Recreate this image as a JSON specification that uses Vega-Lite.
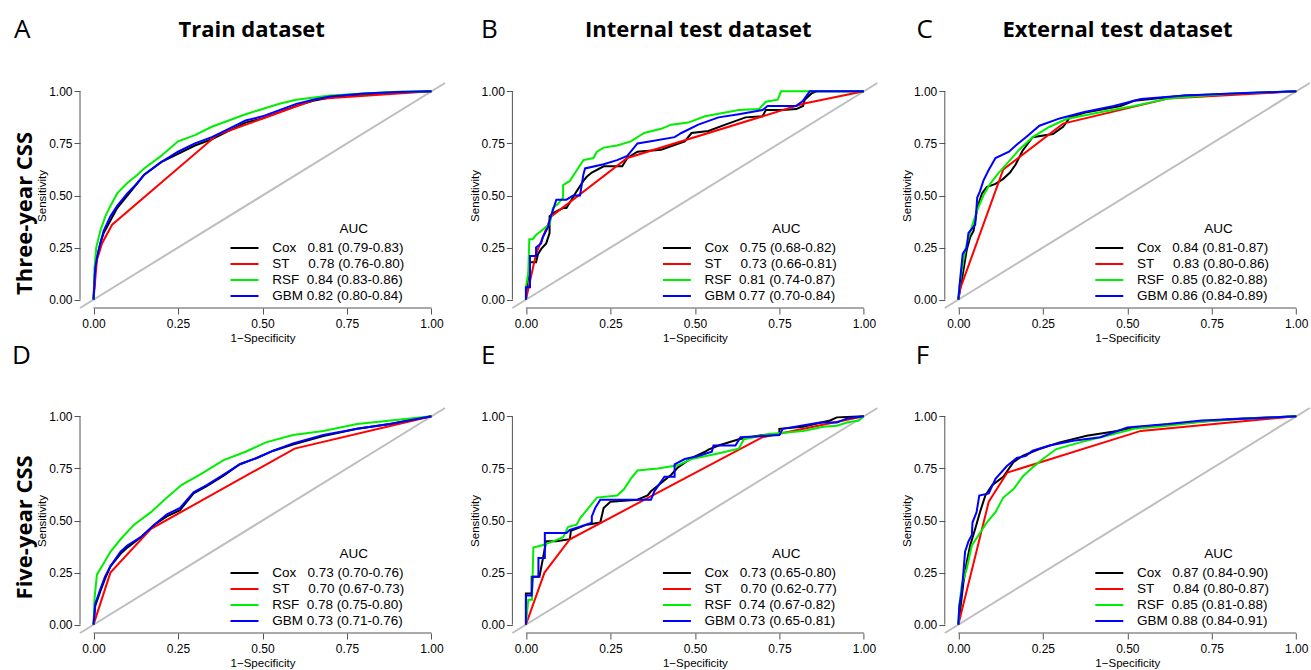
{
"$schema":"https://vega.github.io/schema/vega-lite/v6.json",
"padding":{"left":12,"top":16,"right":0,"bottom":0},
"datasets":{"roc":[
{"p":"A","m":"Cox","x":0,"y":0},{"p":"A","m":"Cox","x":0.005,"y":0.15},{"p":"A","m":"Cox","x":0.01,"y":0.2},{"p":"A","m":"Cox","x":0.02,"y":0.27},{"p":"A","m":"Cox","x":0.03,"y":0.32},{"p":"A","m":"Cox","x":0.05,"y":0.38},{"p":"A","m":"Cox","x":0.07,"y":0.44},{"p":"A","m":"Cox","x":0.1,"y":0.5},{"p":"A","m":"Cox","x":0.13,"y":0.56},{"p":"A","m":"Cox","x":0.15,"y":0.6},{"p":"A","m":"Cox","x":0.2,"y":0.66},{"p":"A","m":"Cox","x":0.25,"y":0.7},{"p":"A","m":"Cox","x":0.3,"y":0.74},{"p":"A","m":"Cox","x":0.35,"y":0.77},{"p":"A","m":"Cox","x":0.4,"y":0.81},{"p":"A","m":"Cox","x":0.45,"y":0.85},{"p":"A","m":"Cox","x":0.5,"y":0.87},{"p":"A","m":"Cox","x":0.55,"y":0.9},{"p":"A","m":"Cox","x":0.6,"y":0.93},{"p":"A","m":"Cox","x":0.65,"y":0.955},{"p":"A","m":"Cox","x":0.7,"y":0.97},{"p":"A","m":"Cox","x":0.8,"y":0.985},{"p":"A","m":"Cox","x":0.9,"y":0.995},{"p":"A","m":"Cox","x":1,"y":1},
{"p":"A","m":"ST","x":0,"y":0},{"p":"A","m":"ST","x":0.01,"y":0.19},{"p":"A","m":"ST","x":0.025,"y":0.27},{"p":"A","m":"ST","x":0.055,"y":0.36},{"p":"A","m":"ST","x":0.365,"y":0.79},{"p":"A","m":"ST","x":0.66,"y":0.963},{"p":"A","m":"ST","x":1,"y":1},
{"p":"A","m":"RSF","x":0,"y":0},{"p":"A","m":"RSF","x":0.003,"y":0.15},{"p":"A","m":"RSF","x":0.008,"y":0.25},{"p":"A","m":"RSF","x":0.02,"y":0.33},{"p":"A","m":"RSF","x":0.035,"y":0.4},{"p":"A","m":"RSF","x":0.05,"y":0.45},{"p":"A","m":"RSF","x":0.07,"y":0.51},{"p":"A","m":"RSF","x":0.1,"y":0.56},{"p":"A","m":"RSF","x":0.13,"y":0.6},{"p":"A","m":"RSF","x":0.15,"y":0.63},{"p":"A","m":"RSF","x":0.2,"y":0.69},{"p":"A","m":"RSF","x":0.25,"y":0.76},{"p":"A","m":"RSF","x":0.3,"y":0.79},{"p":"A","m":"RSF","x":0.35,"y":0.83},{"p":"A","m":"RSF","x":0.4,"y":0.86},{"p":"A","m":"RSF","x":0.45,"y":0.89},{"p":"A","m":"RSF","x":0.5,"y":0.915},{"p":"A","m":"RSF","x":0.55,"y":0.94},{"p":"A","m":"RSF","x":0.6,"y":0.96},{"p":"A","m":"RSF","x":0.7,"y":0.98},{"p":"A","m":"RSF","x":0.8,"y":0.99},{"p":"A","m":"RSF","x":0.9,"y":0.998},{"p":"A","m":"RSF","x":1,"y":1},
{"p":"A","m":"GBM","x":0,"y":0},{"p":"A","m":"GBM","x":0.005,"y":0.15},{"p":"A","m":"GBM","x":0.01,"y":0.2},{"p":"A","m":"GBM","x":0.02,"y":0.27},{"p":"A","m":"GBM","x":0.03,"y":0.33},{"p":"A","m":"GBM","x":0.05,"y":0.4},{"p":"A","m":"GBM","x":0.07,"y":0.45},{"p":"A","m":"GBM","x":0.1,"y":0.51},{"p":"A","m":"GBM","x":0.13,"y":0.56},{"p":"A","m":"GBM","x":0.15,"y":0.6},{"p":"A","m":"GBM","x":0.2,"y":0.66},{"p":"A","m":"GBM","x":0.25,"y":0.71},{"p":"A","m":"GBM","x":0.3,"y":0.75},{"p":"A","m":"GBM","x":0.35,"y":0.78},{"p":"A","m":"GBM","x":0.4,"y":0.82},{"p":"A","m":"GBM","x":0.45,"y":0.86},{"p":"A","m":"GBM","x":0.5,"y":0.88},{"p":"A","m":"GBM","x":0.55,"y":0.91},{"p":"A","m":"GBM","x":0.6,"y":0.94},{"p":"A","m":"GBM","x":0.65,"y":0.96},{"p":"A","m":"GBM","x":0.7,"y":0.975},{"p":"A","m":"GBM","x":0.8,"y":0.99},{"p":"A","m":"GBM","x":0.9,"y":0.997},{"p":"A","m":"GBM","x":1,"y":1},

{"p":"B","m":"Cox","x":0,"y":0},{"p":"B","m":"Cox","x":0.003,"y":0.06},{"p":"B","m":"Cox","x":0.012,"y":0.18},{"p":"B","m":"Cox","x":0.03,"y":0.18},{"p":"B","m":"Cox","x":0.036,"y":0.22},{"p":"B","m":"Cox","x":0.046,"y":0.245},{"p":"B","m":"Cox","x":0.06,"y":0.27},{"p":"B","m":"Cox","x":0.07,"y":0.32},{"p":"B","m":"Cox","x":0.07,"y":0.4},{"p":"B","m":"Cox","x":0.086,"y":0.42},{"p":"B","m":"Cox","x":0.11,"y":0.44},{"p":"B","m":"Cox","x":0.12,"y":0.44},{"p":"B","m":"Cox","x":0.135,"y":0.48},{"p":"B","m":"Cox","x":0.15,"y":0.52},{"p":"B","m":"Cox","x":0.17,"y":0.57},{"p":"B","m":"Cox","x":0.18,"y":0.59},{"p":"B","m":"Cox","x":0.195,"y":0.61},{"p":"B","m":"Cox","x":0.23,"y":0.64},{"p":"B","m":"Cox","x":0.285,"y":0.64},{"p":"B","m":"Cox","x":0.3,"y":0.68},{"p":"B","m":"Cox","x":0.33,"y":0.71},{"p":"B","m":"Cox","x":0.4,"y":0.72},{"p":"B","m":"Cox","x":0.47,"y":0.76},{"p":"B","m":"Cox","x":0.49,"y":0.8},{"p":"B","m":"Cox","x":0.54,"y":0.81},{"p":"B","m":"Cox","x":0.59,"y":0.84},{"p":"B","m":"Cox","x":0.65,"y":0.875},{"p":"B","m":"Cox","x":0.7,"y":0.88},{"p":"B","m":"Cox","x":0.71,"y":0.91},{"p":"B","m":"Cox","x":0.76,"y":0.91},{"p":"B","m":"Cox","x":0.8,"y":0.915},{"p":"B","m":"Cox","x":0.82,"y":0.93},{"p":"B","m":"Cox","x":0.825,"y":0.96},{"p":"B","m":"Cox","x":0.845,"y":0.99},{"p":"B","m":"Cox","x":0.86,"y":1},{"p":"B","m":"Cox","x":1,"y":1},
{"p":"B","m":"ST","x":0,"y":0},{"p":"B","m":"ST","x":0.03,"y":0.22},{"p":"B","m":"ST","x":0.075,"y":0.4},{"p":"B","m":"ST","x":0.3,"y":0.68},{"p":"B","m":"ST","x":0.82,"y":0.94},{"p":"B","m":"ST","x":1,"y":1},
{"p":"B","m":"RSF","x":0,"y":0},{"p":"B","m":"RSF","x":0,"y":0.06},{"p":"B","m":"RSF","x":0.007,"y":0.13},{"p":"B","m":"RSF","x":0.01,"y":0.29},{"p":"B","m":"RSF","x":0.02,"y":0.29},{"p":"B","m":"RSF","x":0.03,"y":0.31},{"p":"B","m":"RSF","x":0.045,"y":0.33},{"p":"B","m":"RSF","x":0.06,"y":0.35},{"p":"B","m":"RSF","x":0.07,"y":0.36},{"p":"B","m":"RSF","x":0.08,"y":0.44},{"p":"B","m":"RSF","x":0.095,"y":0.46},{"p":"B","m":"RSF","x":0.11,"y":0.49},{"p":"B","m":"RSF","x":0.11,"y":0.55},{"p":"B","m":"RSF","x":0.13,"y":0.57},{"p":"B","m":"RSF","x":0.15,"y":0.62},{"p":"B","m":"RSF","x":0.17,"y":0.67},{"p":"B","m":"RSF","x":0.2,"y":0.68},{"p":"B","m":"RSF","x":0.21,"y":0.71},{"p":"B","m":"RSF","x":0.23,"y":0.73},{"p":"B","m":"RSF","x":0.27,"y":0.74},{"p":"B","m":"RSF","x":0.31,"y":0.76},{"p":"B","m":"RSF","x":0.35,"y":0.8},{"p":"B","m":"RSF","x":0.4,"y":0.82},{"p":"B","m":"RSF","x":0.43,"y":0.84},{"p":"B","m":"RSF","x":0.48,"y":0.85},{"p":"B","m":"RSF","x":0.53,"y":0.88},{"p":"B","m":"RSF","x":0.63,"y":0.91},{"p":"B","m":"RSF","x":0.69,"y":0.915},{"p":"B","m":"RSF","x":0.71,"y":0.95},{"p":"B","m":"RSF","x":0.745,"y":0.96},{"p":"B","m":"RSF","x":0.755,"y":1},{"p":"B","m":"RSF","x":1,"y":1},
{"p":"B","m":"GBM","x":0,"y":0},{"p":"B","m":"GBM","x":0,"y":0.06},{"p":"B","m":"GBM","x":0.012,"y":0.06},{"p":"B","m":"GBM","x":0.012,"y":0.21},{"p":"B","m":"GBM","x":0.03,"y":0.21},{"p":"B","m":"GBM","x":0.03,"y":0.25},{"p":"B","m":"GBM","x":0.045,"y":0.27},{"p":"B","m":"GBM","x":0.05,"y":0.3},{"p":"B","m":"GBM","x":0.066,"y":0.35},{"p":"B","m":"GBM","x":0.07,"y":0.38},{"p":"B","m":"GBM","x":0.09,"y":0.48},{"p":"B","m":"GBM","x":0.12,"y":0.48},{"p":"B","m":"GBM","x":0.14,"y":0.5},{"p":"B","m":"GBM","x":0.16,"y":0.5},{"p":"B","m":"GBM","x":0.17,"y":0.6},{"p":"B","m":"GBM","x":0.175,"y":0.63},{"p":"B","m":"GBM","x":0.23,"y":0.65},{"p":"B","m":"GBM","x":0.27,"y":0.67},{"p":"B","m":"GBM","x":0.3,"y":0.69},{"p":"B","m":"GBM","x":0.33,"y":0.75},{"p":"B","m":"GBM","x":0.37,"y":0.76},{"p":"B","m":"GBM","x":0.44,"y":0.78},{"p":"B","m":"GBM","x":0.46,"y":0.8},{"p":"B","m":"GBM","x":0.51,"y":0.84},{"p":"B","m":"GBM","x":0.57,"y":0.875},{"p":"B","m":"GBM","x":0.63,"y":0.89},{"p":"B","m":"GBM","x":0.7,"y":0.91},{"p":"B","m":"GBM","x":0.715,"y":0.93},{"p":"B","m":"GBM","x":0.8,"y":0.93},{"p":"B","m":"GBM","x":0.82,"y":0.955},{"p":"B","m":"GBM","x":0.84,"y":1},{"p":"B","m":"GBM","x":1,"y":1},

{"p":"C","m":"Cox","x":0,"y":0},{"p":"C","m":"Cox","x":0.01,"y":0.09},{"p":"C","m":"Cox","x":0.017,"y":0.16},{"p":"C","m":"Cox","x":0.025,"y":0.24},{"p":"C","m":"Cox","x":0.035,"y":0.3},{"p":"C","m":"Cox","x":0.045,"y":0.33},{"p":"C","m":"Cox","x":0.056,"y":0.44},{"p":"C","m":"Cox","x":0.07,"y":0.51},{"p":"C","m":"Cox","x":0.084,"y":0.54},{"p":"C","m":"Cox","x":0.11,"y":0.556},{"p":"C","m":"Cox","x":0.133,"y":0.58},{"p":"C","m":"Cox","x":0.153,"y":0.61},{"p":"C","m":"Cox","x":0.17,"y":0.65},{"p":"C","m":"Cox","x":0.19,"y":0.715},{"p":"C","m":"Cox","x":0.22,"y":0.78},{"p":"C","m":"Cox","x":0.28,"y":0.795},{"p":"C","m":"Cox","x":0.31,"y":0.83},{"p":"C","m":"Cox","x":0.33,"y":0.875},{"p":"C","m":"Cox","x":0.38,"y":0.9},{"p":"C","m":"Cox","x":0.48,"y":0.93},{"p":"C","m":"Cox","x":0.52,"y":0.955},{"p":"C","m":"Cox","x":0.67,"y":0.98},{"p":"C","m":"Cox","x":0.81,"y":0.987},{"p":"C","m":"Cox","x":1,"y":1},
{"p":"C","m":"ST","x":0,"y":0},{"p":"C","m":"ST","x":0.005,"y":0.05},{"p":"C","m":"ST","x":0.133,"y":0.625},{"p":"C","m":"ST","x":0.31,"y":0.845},{"p":"C","m":"ST","x":0.62,"y":0.965},{"p":"C","m":"ST","x":1,"y":1},
{"p":"C","m":"RSF","x":0,"y":0},{"p":"C","m":"RSF","x":0.003,"y":0.06},{"p":"C","m":"RSF","x":0.015,"y":0.19},{"p":"C","m":"RSF","x":0.025,"y":0.27},{"p":"C","m":"RSF","x":0.04,"y":0.35},{"p":"C","m":"RSF","x":0.056,"y":0.43},{"p":"C","m":"RSF","x":0.074,"y":0.5},{"p":"C","m":"RSF","x":0.094,"y":0.556},{"p":"C","m":"RSF","x":0.12,"y":0.61},{"p":"C","m":"RSF","x":0.153,"y":0.67},{"p":"C","m":"RSF","x":0.18,"y":0.72},{"p":"C","m":"RSF","x":0.22,"y":0.78},{"p":"C","m":"RSF","x":0.27,"y":0.83},{"p":"C","m":"RSF","x":0.32,"y":0.867},{"p":"C","m":"RSF","x":0.42,"y":0.9},{"p":"C","m":"RSF","x":0.52,"y":0.93},{"p":"C","m":"RSF","x":0.62,"y":0.965},{"p":"C","m":"RSF","x":0.81,"y":0.99},{"p":"C","m":"RSF","x":1,"y":1},
{"p":"C","m":"GBM","x":0,"y":0},{"p":"C","m":"GBM","x":0.005,"y":0.09},{"p":"C","m":"GBM","x":0.013,"y":0.22},{"p":"C","m":"GBM","x":0.025,"y":0.25},{"p":"C","m":"GBM","x":0.03,"y":0.32},{"p":"C","m":"GBM","x":0.04,"y":0.34},{"p":"C","m":"GBM","x":0.05,"y":0.36},{"p":"C","m":"GBM","x":0.056,"y":0.49},{"p":"C","m":"GBM","x":0.064,"y":0.52},{"p":"C","m":"GBM","x":0.074,"y":0.57},{"p":"C","m":"GBM","x":0.089,"y":0.62},{"p":"C","m":"GBM","x":0.11,"y":0.68},{"p":"C","m":"GBM","x":0.15,"y":0.71},{"p":"C","m":"GBM","x":0.17,"y":0.74},{"p":"C","m":"GBM","x":0.2,"y":0.78},{"p":"C","m":"GBM","x":0.24,"y":0.835},{"p":"C","m":"GBM","x":0.3,"y":0.87},{"p":"C","m":"GBM","x":0.37,"y":0.9},{"p":"C","m":"GBM","x":0.46,"y":0.93},{"p":"C","m":"GBM","x":0.54,"y":0.963},{"p":"C","m":"GBM","x":0.67,"y":0.98},{"p":"C","m":"GBM","x":0.81,"y":0.99},{"p":"C","m":"GBM","x":1,"y":1},

{"p":"D","m":"Cox","x":0,"y":0},{"p":"D","m":"Cox","x":0.005,"y":0.09},{"p":"D","m":"Cox","x":0.02,"y":0.16},{"p":"D","m":"Cox","x":0.034,"y":0.22},{"p":"D","m":"Cox","x":0.05,"y":0.28},{"p":"D","m":"Cox","x":0.08,"y":0.34},{"p":"D","m":"Cox","x":0.1,"y":0.37},{"p":"D","m":"Cox","x":0.14,"y":0.42},{"p":"D","m":"Cox","x":0.18,"y":0.48},{"p":"D","m":"Cox","x":0.217,"y":0.52},{"p":"D","m":"Cox","x":0.256,"y":0.55},{"p":"D","m":"Cox","x":0.296,"y":0.63},{"p":"D","m":"Cox","x":0.335,"y":0.665},{"p":"D","m":"Cox","x":0.385,"y":0.715},{"p":"D","m":"Cox","x":0.433,"y":0.77},{"p":"D","m":"Cox","x":0.483,"y":0.8},{"p":"D","m":"Cox","x":0.532,"y":0.835},{"p":"D","m":"Cox","x":0.59,"y":0.865},{"p":"D","m":"Cox","x":0.68,"y":0.905},{"p":"D","m":"Cox","x":0.78,"y":0.94},{"p":"D","m":"Cox","x":0.877,"y":0.963},{"p":"D","m":"Cox","x":1,"y":1},
{"p":"D","m":"ST","x":0,"y":0},{"p":"D","m":"ST","x":0.05,"y":0.25},{"p":"D","m":"ST","x":0.17,"y":0.46},{"p":"D","m":"ST","x":0.595,"y":0.845},{"p":"D","m":"ST","x":1,"y":1},
{"p":"D","m":"RSF","x":0,"y":0},{"p":"D","m":"RSF","x":0.003,"y":0.125},{"p":"D","m":"RSF","x":0.01,"y":0.24},{"p":"D","m":"RSF","x":0.025,"y":0.28},{"p":"D","m":"RSF","x":0.05,"y":0.35},{"p":"D","m":"RSF","x":0.08,"y":0.41},{"p":"D","m":"RSF","x":0.12,"y":0.48},{"p":"D","m":"RSF","x":0.17,"y":0.54},{"p":"D","m":"RSF","x":0.21,"y":0.6},{"p":"D","m":"RSF","x":0.26,"y":0.67},{"p":"D","m":"RSF","x":0.315,"y":0.72},{"p":"D","m":"RSF","x":0.385,"y":0.79},{"p":"D","m":"RSF","x":0.45,"y":0.83},{"p":"D","m":"RSF","x":0.51,"y":0.875},{"p":"D","m":"RSF","x":0.59,"y":0.91},{"p":"D","m":"RSF","x":0.68,"y":0.93},{"p":"D","m":"RSF","x":0.78,"y":0.963},{"p":"D","m":"RSF","x":0.88,"y":0.98},{"p":"D","m":"RSF","x":1,"y":1},
{"p":"D","m":"GBM","x":0,"y":0},{"p":"D","m":"GBM","x":0.005,"y":0.1},{"p":"D","m":"GBM","x":0.02,"y":0.17},{"p":"D","m":"GBM","x":0.034,"y":0.23},{"p":"D","m":"GBM","x":0.05,"y":0.28},{"p":"D","m":"GBM","x":0.08,"y":0.35},{"p":"D","m":"GBM","x":0.1,"y":0.38},{"p":"D","m":"GBM","x":0.14,"y":0.42},{"p":"D","m":"GBM","x":0.18,"y":0.48},{"p":"D","m":"GBM","x":0.217,"y":0.53},{"p":"D","m":"GBM","x":0.256,"y":0.56},{"p":"D","m":"GBM","x":0.296,"y":0.635},{"p":"D","m":"GBM","x":0.335,"y":0.67},{"p":"D","m":"GBM","x":0.385,"y":0.72},{"p":"D","m":"GBM","x":0.433,"y":0.77},{"p":"D","m":"GBM","x":0.483,"y":0.8},{"p":"D","m":"GBM","x":0.532,"y":0.835},{"p":"D","m":"GBM","x":0.59,"y":0.87},{"p":"D","m":"GBM","x":0.68,"y":0.91},{"p":"D","m":"GBM","x":0.78,"y":0.94},{"p":"D","m":"GBM","x":0.877,"y":0.963},{"p":"D","m":"GBM","x":1,"y":1},

{"p":"E","m":"Cox","x":0,"y":0},{"p":"E","m":"Cox","x":0,"y":0.15},{"p":"E","m":"Cox","x":0.017,"y":0.15},{"p":"E","m":"Cox","x":0.017,"y":0.23},{"p":"E","m":"Cox","x":0.04,"y":0.23},{"p":"E","m":"Cox","x":0.06,"y":0.4},{"p":"E","m":"Cox","x":0.09,"y":0.4},{"p":"E","m":"Cox","x":0.13,"y":0.41},{"p":"E","m":"Cox","x":0.133,"y":0.45},{"p":"E","m":"Cox","x":0.18,"y":0.48},{"p":"E","m":"Cox","x":0.22,"y":0.49},{"p":"E","m":"Cox","x":0.23,"y":0.56},{"p":"E","m":"Cox","x":0.25,"y":0.59},{"p":"E","m":"Cox","x":0.33,"y":0.6},{"p":"E","m":"Cox","x":0.36,"y":0.62},{"p":"E","m":"Cox","x":0.37,"y":0.64},{"p":"E","m":"Cox","x":0.4,"y":0.68},{"p":"E","m":"Cox","x":0.43,"y":0.72},{"p":"E","m":"Cox","x":0.45,"y":0.755},{"p":"E","m":"Cox","x":0.49,"y":0.8},{"p":"E","m":"Cox","x":0.53,"y":0.83},{"p":"E","m":"Cox","x":0.54,"y":0.84},{"p":"E","m":"Cox","x":0.57,"y":0.86},{"p":"E","m":"Cox","x":0.63,"y":0.89},{"p":"E","m":"Cox","x":0.7,"y":0.91},{"p":"E","m":"Cox","x":0.75,"y":0.915},{"p":"E","m":"Cox","x":0.75,"y":0.94},{"p":"E","m":"Cox","x":0.82,"y":0.95},{"p":"E","m":"Cox","x":0.9,"y":0.98},{"p":"E","m":"Cox","x":0.92,"y":0.995},{"p":"E","m":"Cox","x":1,"y":1},
{"p":"E","m":"ST","x":0,"y":0},{"p":"E","m":"ST","x":0.055,"y":0.25},{"p":"E","m":"ST","x":0.13,"y":0.41},{"p":"E","m":"ST","x":0.7,"y":0.9},{"p":"E","m":"ST","x":1,"y":1},
{"p":"E","m":"RSF","x":0,"y":0},{"p":"E","m":"RSF","x":0.007,"y":0.12},{"p":"E","m":"RSF","x":0.018,"y":0.12},{"p":"E","m":"RSF","x":0.022,"y":0.37},{"p":"E","m":"RSF","x":0.046,"y":0.38},{"p":"E","m":"RSF","x":0.08,"y":0.4},{"p":"E","m":"RSF","x":0.11,"y":0.42},{"p":"E","m":"RSF","x":0.125,"y":0.47},{"p":"E","m":"RSF","x":0.15,"y":0.48},{"p":"E","m":"RSF","x":0.16,"y":0.51},{"p":"E","m":"RSF","x":0.175,"y":0.54},{"p":"E","m":"RSF","x":0.19,"y":0.57},{"p":"E","m":"RSF","x":0.21,"y":0.61},{"p":"E","m":"RSF","x":0.27,"y":0.62},{"p":"E","m":"RSF","x":0.29,"y":0.65},{"p":"E","m":"RSF","x":0.31,"y":0.7},{"p":"E","m":"RSF","x":0.33,"y":0.74},{"p":"E","m":"RSF","x":0.39,"y":0.75},{"p":"E","m":"RSF","x":0.45,"y":0.765},{"p":"E","m":"RSF","x":0.49,"y":0.795},{"p":"E","m":"RSF","x":0.565,"y":0.82},{"p":"E","m":"RSF","x":0.63,"y":0.845},{"p":"E","m":"RSF","x":0.645,"y":0.89},{"p":"E","m":"RSF","x":0.72,"y":0.915},{"p":"E","m":"RSF","x":0.82,"y":0.93},{"p":"E","m":"RSF","x":0.88,"y":0.95},{"p":"E","m":"RSF","x":0.92,"y":0.955},{"p":"E","m":"RSF","x":0.95,"y":0.97},{"p":"E","m":"RSF","x":0.985,"y":0.98},{"p":"E","m":"RSF","x":1,"y":1},
{"p":"E","m":"GBM","x":0,"y":0},{"p":"E","m":"GBM","x":0,"y":0.14},{"p":"E","m":"GBM","x":0.017,"y":0.14},{"p":"E","m":"GBM","x":0.02,"y":0.23},{"p":"E","m":"GBM","x":0.037,"y":0.23},{"p":"E","m":"GBM","x":0.037,"y":0.32},{"p":"E","m":"GBM","x":0.056,"y":0.32},{"p":"E","m":"GBM","x":0.056,"y":0.44},{"p":"E","m":"GBM","x":0.12,"y":0.44},{"p":"E","m":"GBM","x":0.13,"y":0.455},{"p":"E","m":"GBM","x":0.16,"y":0.47},{"p":"E","m":"GBM","x":0.195,"y":0.49},{"p":"E","m":"GBM","x":0.195,"y":0.52},{"p":"E","m":"GBM","x":0.205,"y":0.56},{"p":"E","m":"GBM","x":0.22,"y":0.6},{"p":"E","m":"GBM","x":0.33,"y":0.6},{"p":"E","m":"GBM","x":0.37,"y":0.6},{"p":"E","m":"GBM","x":0.38,"y":0.64},{"p":"E","m":"GBM","x":0.41,"y":0.71},{"p":"E","m":"GBM","x":0.44,"y":0.71},{"p":"E","m":"GBM","x":0.44,"y":0.77},{"p":"E","m":"GBM","x":0.47,"y":0.795},{"p":"E","m":"GBM","x":0.51,"y":0.81},{"p":"E","m":"GBM","x":0.55,"y":0.83},{"p":"E","m":"GBM","x":0.555,"y":0.86},{"p":"E","m":"GBM","x":0.62,"y":0.86},{"p":"E","m":"GBM","x":0.635,"y":0.9},{"p":"E","m":"GBM","x":0.75,"y":0.91},{"p":"E","m":"GBM","x":0.76,"y":0.94},{"p":"E","m":"GBM","x":0.87,"y":0.97},{"p":"E","m":"GBM","x":0.92,"y":0.97},{"p":"E","m":"GBM","x":0.95,"y":0.99},{"p":"E","m":"GBM","x":1,"y":1},

{"p":"F","m":"Cox","x":0,"y":0},{"p":"F","m":"Cox","x":0.007,"y":0.09},{"p":"F","m":"Cox","x":0.015,"y":0.2},{"p":"F","m":"Cox","x":0.025,"y":0.3},{"p":"F","m":"Cox","x":0.035,"y":0.38},{"p":"F","m":"Cox","x":0.05,"y":0.46},{"p":"F","m":"Cox","x":0.064,"y":0.54},{"p":"F","m":"Cox","x":0.08,"y":0.62},{"p":"F","m":"Cox","x":0.1,"y":0.67},{"p":"F","m":"Cox","x":0.133,"y":0.71},{"p":"F","m":"Cox","x":0.163,"y":0.78},{"p":"F","m":"Cox","x":0.19,"y":0.81},{"p":"F","m":"Cox","x":0.24,"y":0.843},{"p":"F","m":"Cox","x":0.3,"y":0.875},{"p":"F","m":"Cox","x":0.38,"y":0.907},{"p":"F","m":"Cox","x":0.47,"y":0.93},{"p":"F","m":"Cox","x":0.52,"y":0.947},{"p":"F","m":"Cox","x":0.67,"y":0.968},{"p":"F","m":"Cox","x":0.81,"y":0.987},{"p":"F","m":"Cox","x":1,"y":1},
{"p":"F","m":"ST","x":0,"y":0},{"p":"F","m":"ST","x":0.09,"y":0.59},{"p":"F","m":"ST","x":0.145,"y":0.73},{"p":"F","m":"ST","x":0.54,"y":0.93},{"p":"F","m":"ST","x":1,"y":1},
{"p":"F","m":"RSF","x":0,"y":0},{"p":"F","m":"RSF","x":0.003,"y":0.09},{"p":"F","m":"RSF","x":0.01,"y":0.19},{"p":"F","m":"RSF","x":0.025,"y":0.27},{"p":"F","m":"RSF","x":0.04,"y":0.38},{"p":"F","m":"RSF","x":0.064,"y":0.44},{"p":"F","m":"RSF","x":0.084,"y":0.49},{"p":"F","m":"RSF","x":0.11,"y":0.54},{"p":"F","m":"RSF","x":0.133,"y":0.61},{"p":"F","m":"RSF","x":0.163,"y":0.65},{"p":"F","m":"RSF","x":0.19,"y":0.71},{"p":"F","m":"RSF","x":0.22,"y":0.755},{"p":"F","m":"RSF","x":0.25,"y":0.795},{"p":"F","m":"RSF","x":0.29,"y":0.843},{"p":"F","m":"RSF","x":0.36,"y":0.875},{"p":"F","m":"RSF","x":0.44,"y":0.907},{"p":"F","m":"RSF","x":0.52,"y":0.94},{"p":"F","m":"RSF","x":0.62,"y":0.955},{"p":"F","m":"RSF","x":0.72,"y":0.974},{"p":"F","m":"RSF","x":0.86,"y":0.99},{"p":"F","m":"RSF","x":1,"y":1},
{"p":"F","m":"GBM","x":0,"y":0},{"p":"F","m":"GBM","x":0.003,"y":0.09},{"p":"F","m":"GBM","x":0.01,"y":0.16},{"p":"F","m":"GBM","x":0.015,"y":0.25},{"p":"F","m":"GBM","x":0.02,"y":0.35},{"p":"F","m":"GBM","x":0.03,"y":0.4},{"p":"F","m":"GBM","x":0.04,"y":0.43},{"p":"F","m":"GBM","x":0.042,"y":0.49},{"p":"F","m":"GBM","x":0.054,"y":0.54},{"p":"F","m":"GBM","x":0.062,"y":0.62},{"p":"F","m":"GBM","x":0.09,"y":0.63},{"p":"F","m":"GBM","x":0.11,"y":0.7},{"p":"F","m":"GBM","x":0.143,"y":0.76},{"p":"F","m":"GBM","x":0.173,"y":0.8},{"p":"F","m":"GBM","x":0.2,"y":0.81},{"p":"F","m":"GBM","x":0.22,"y":0.835},{"p":"F","m":"GBM","x":0.27,"y":0.86},{"p":"F","m":"GBM","x":0.34,"y":0.883},{"p":"F","m":"GBM","x":0.42,"y":0.9},{"p":"F","m":"GBM","x":0.5,"y":0.947},{"p":"F","m":"GBM","x":0.62,"y":0.963},{"p":"F","m":"GBM","x":0.72,"y":0.98},{"p":"F","m":"GBM","x":0.86,"y":0.99},{"p":"F","m":"GBM","x":1,"y":1}
]},
"columns":3,
"spacing":{"row":100,"column":67.4},
"bounds":"flush",
"concat":[
{"width":365,"height":225,"layer":[
 {"data":{"values":[{}]},"mark":{"type":"rule","color":"#BEBEBE","strokeWidth":2},"encoding":{"x":{"datum":-0.04,"type":"quantitative","scale":{"domain":[-0.04,1.04],"nice":false,"zero":false}},"y":{"datum":-0.04,"type":"quantitative","scale":{"domain":[-0.04,1.04],"nice":false,"zero":false}},"x2":{"datum":1.04},"y2":{"datum":1.04}}},
 {"data":{"values":[{}]},"mark":{"type":"rule","color":"#555555","strokeWidth":1},"encoding":{"x":{"datum":0},"x2":{"datum":1},"y":{"datum":-0.04}}},
 {"data":{"values":[{}]},"mark":{"type":"rule","color":"#555555","strokeWidth":1},"encoding":{"y":{"datum":0},"y2":{"datum":1},"x":{"datum":-0.04}}},
 {"data":{"name":"roc"},"transform":[{"filter":"datum.p=='A'"}],"mark":{"type":"line","strokeWidth":2},"encoding":{
  "x":{"field":"x","type":"quantitative","scale":{"domain":[-0.04,1.04],"nice":false,"zero":false},"axis":{"values":[0,0.25,0.5,0.75,1],"format":".2f","title":"1−Specificity"}},
  "y":{"field":"y","type":"quantitative","scale":{"domain":[-0.04,1.04],"nice":false,"zero":false},"axis":{"values":[0,0.25,0.5,0.75,1],"format":".2f","title":"Sensitivity"}},
  "color":{"field":"m","type":"nominal","scale":{"domain":["Cox","ST","RSF","GBM"],"range":["#000000","#FF0000","#00EE00","#0000FF"]},"legend":{"labelExpr":"datum.label=='Cox'?'Cox\u00a0\u00a0\u00a00.81 (0.79-0.83)':datum.label=='ST'?'ST\u00a0\u00a0\u00a0\u00a0\u00a00.78 (0.76-0.80)':datum.label=='RSF'?'RSF\u00a0\u00a00.84 (0.83-0.86)':'GBM\u00a00.82 (0.80-0.84)'"}},
  "order":[{"field":"x"},{"field":"y"}]}},
 {"data":{"values":[{}]},"mark":{"type":"text","font":"Liberation Sans","fontSize":13.5,"align":"center","baseline":"middle"},"encoding":{"x":{"datum":0.77},"y":{"datum":0.34},"text":{"value":"AUC"}}},
 {"data":{"values":[{}]},"mark":{"type":"text","font":"Open Sans","fontSize":26,"align":"left","baseline":"alphabetic"},"encoding":{"x":{"datum":-0.235},"y":{"datum":1.258},"text":{"value":"A"}}},
 {"data":{"values":[{}]},"mark":{"type":"text","font":"Open Sans","fontSize":22,"fontWeight":"bold","align":"center","baseline":"alphabetic"},"encoding":{"x":{"datum":0.468},"y":{"datum":1.2626},"text":{"value":"Train dataset"}}},
 {"data":{"values":[{}]},"mark":{"type":"text","font":"Open Sans","fontSize":22,"fontWeight":"bold","align":"center","baseline":"middle","angle":270},"encoding":{"x":{"datum":-0.202},"y":{"datum":0.414},"text":{"value":"Three-year CSS"}}}
]},
{"width":365,"height":225,"layer":[
 {"data":{"values":[{}]},"mark":{"type":"rule","color":"#BEBEBE","strokeWidth":2},"encoding":{"x":{"datum":-0.04,"type":"quantitative","scale":{"domain":[-0.04,1.04],"nice":false,"zero":false}},"y":{"datum":-0.04,"type":"quantitative","scale":{"domain":[-0.04,1.04],"nice":false,"zero":false}},"x2":{"datum":1.04},"y2":{"datum":1.04}}},
 {"data":{"values":[{}]},"mark":{"type":"rule","color":"#555555","strokeWidth":1},"encoding":{"x":{"datum":0},"x2":{"datum":1},"y":{"datum":-0.04}}},
 {"data":{"values":[{}]},"mark":{"type":"rule","color":"#555555","strokeWidth":1},"encoding":{"y":{"datum":0},"y2":{"datum":1},"x":{"datum":-0.04}}},
 {"data":{"name":"roc"},"transform":[{"filter":"datum.p=='B'"}],"mark":{"type":"line","strokeWidth":2},"encoding":{
  "x":{"field":"x","type":"quantitative","scale":{"domain":[-0.04,1.04],"nice":false,"zero":false},"axis":{"values":[0,0.25,0.5,0.75,1],"format":".2f","title":"1−Specificity"}},
  "y":{"field":"y","type":"quantitative","scale":{"domain":[-0.04,1.04],"nice":false,"zero":false},"axis":{"values":[0,0.25,0.5,0.75,1],"format":".2f","title":"Sensitivity"}},
  "color":{"field":"m","type":"nominal","scale":{"domain":["Cox","ST","RSF","GBM"],"range":["#000000","#FF0000","#00EE00","#0000FF"]},"legend":{"labelExpr":"datum.label=='Cox'?'Cox\u00a0\u00a0\u00a00.75 (0.68-0.82)':datum.label=='ST'?'ST\u00a0\u00a0\u00a0\u00a0\u00a00.73 (0.66-0.81)':datum.label=='RSF'?'RSF\u00a0\u00a00.81 (0.74-0.87)':'GBM\u00a00.77 (0.70-0.84)'"}},
  "order":[{"field":"x"},{"field":"y"}]}},
 {"data":{"values":[{}]},"mark":{"type":"text","font":"Liberation Sans","fontSize":13.5,"align":"center","baseline":"middle"},"encoding":{"x":{"datum":0.77},"y":{"datum":0.34},"text":{"value":"AUC"}}},
 {"data":{"values":[{}]},"mark":{"type":"text","font":"Open Sans","fontSize":26,"align":"left","baseline":"alphabetic"},"encoding":{"x":{"datum":-0.133},"y":{"datum":1.258},"text":{"value":"B"}}},
 {"data":{"values":[{}]},"mark":{"type":"text","font":"Open Sans","fontSize":22,"fontWeight":"bold","align":"center","baseline":"alphabetic"},"encoding":{"x":{"datum":0.51},"y":{"datum":1.2626},"text":{"value":"Internal test dataset"}}}
]},
{"width":365,"height":225,"layer":[
 {"data":{"values":[{}]},"mark":{"type":"rule","color":"#BEBEBE","strokeWidth":2},"encoding":{"x":{"datum":-0.04,"type":"quantitative","scale":{"domain":[-0.04,1.04],"nice":false,"zero":false}},"y":{"datum":-0.04,"type":"quantitative","scale":{"domain":[-0.04,1.04],"nice":false,"zero":false}},"x2":{"datum":1.04},"y2":{"datum":1.04}}},
 {"data":{"values":[{}]},"mark":{"type":"rule","color":"#555555","strokeWidth":1},"encoding":{"x":{"datum":0},"x2":{"datum":1},"y":{"datum":-0.04}}},
 {"data":{"values":[{}]},"mark":{"type":"rule","color":"#555555","strokeWidth":1},"encoding":{"y":{"datum":0},"y2":{"datum":1},"x":{"datum":-0.04}}},
 {"data":{"name":"roc"},"transform":[{"filter":"datum.p=='C'"}],"mark":{"type":"line","strokeWidth":2},"encoding":{
  "x":{"field":"x","type":"quantitative","scale":{"domain":[-0.04,1.04],"nice":false,"zero":false},"axis":{"values":[0,0.25,0.5,0.75,1],"format":".2f","title":"1−Specificity"}},
  "y":{"field":"y","type":"quantitative","scale":{"domain":[-0.04,1.04],"nice":false,"zero":false},"axis":{"values":[0,0.25,0.5,0.75,1],"format":".2f","title":"Sensitivity"}},
  "color":{"field":"m","type":"nominal","scale":{"domain":["Cox","ST","RSF","GBM"],"range":["#000000","#FF0000","#00EE00","#0000FF"]},"legend":{"labelExpr":"datum.label=='Cox'?'Cox\u00a0\u00a0\u00a00.84 (0.81-0.87)':datum.label=='ST'?'ST\u00a0\u00a0\u00a0\u00a0\u00a00.83 (0.80-0.86)':datum.label=='RSF'?'RSF\u00a0\u00a00.85 (0.82-0.88)':'GBM\u00a00.86 (0.84-0.89)'"}},
  "order":[{"field":"x"},{"field":"y"}]}},
 {"data":{"values":[{}]},"mark":{"type":"text","font":"Liberation Sans","fontSize":13.5,"align":"center","baseline":"middle"},"encoding":{"x":{"datum":0.77},"y":{"datum":0.34},"text":{"value":"AUC"}}},
 {"data":{"values":[{}]},"mark":{"type":"text","font":"Open Sans","fontSize":26,"align":"left","baseline":"alphabetic"},"encoding":{"x":{"datum":-0.124},"y":{"datum":1.258},"text":{"value":"C"}}},
 {"data":{"values":[{}]},"mark":{"type":"text","font":"Open Sans","fontSize":22,"fontWeight":"bold","align":"center","baseline":"alphabetic"},"encoding":{"x":{"datum":0.471},"y":{"datum":1.2626},"text":{"value":"External test dataset"}}}
]},
{"width":365,"height":225,"layer":[
 {"data":{"values":[{}]},"mark":{"type":"rule","color":"#BEBEBE","strokeWidth":2},"encoding":{"x":{"datum":-0.04,"type":"quantitative","scale":{"domain":[-0.04,1.04],"nice":false,"zero":false}},"y":{"datum":-0.04,"type":"quantitative","scale":{"domain":[-0.04,1.04],"nice":false,"zero":false}},"x2":{"datum":1.04},"y2":{"datum":1.04}}},
 {"data":{"values":[{}]},"mark":{"type":"rule","color":"#555555","strokeWidth":1},"encoding":{"x":{"datum":0},"x2":{"datum":1},"y":{"datum":-0.04}}},
 {"data":{"values":[{}]},"mark":{"type":"rule","color":"#555555","strokeWidth":1},"encoding":{"y":{"datum":0},"y2":{"datum":1},"x":{"datum":-0.04}}},
 {"data":{"name":"roc"},"transform":[{"filter":"datum.p=='D'"}],"mark":{"type":"line","strokeWidth":2},"encoding":{
  "x":{"field":"x","type":"quantitative","scale":{"domain":[-0.04,1.04],"nice":false,"zero":false},"axis":{"values":[0,0.25,0.5,0.75,1],"format":".2f","title":"1−Specificity"}},
  "y":{"field":"y","type":"quantitative","scale":{"domain":[-0.04,1.04],"nice":false,"zero":false},"axis":{"values":[0,0.25,0.5,0.75,1],"format":".2f","title":"Sensitivity"}},
  "color":{"field":"m","type":"nominal","scale":{"domain":["Cox","ST","RSF","GBM"],"range":["#000000","#FF0000","#00EE00","#0000FF"]},"legend":{"labelExpr":"datum.label=='Cox'?'Cox\u00a0\u00a0\u00a00.73 (0.70-0.76)':datum.label=='ST'?'ST\u00a0\u00a0\u00a0\u00a0\u00a00.70 (0.67-0.73)':datum.label=='RSF'?'RSF\u00a0\u00a00.78 (0.75-0.80)':'GBM\u00a00.73 (0.71-0.76)'"}},
  "order":[{"field":"x"},{"field":"y"}]}},
 {"data":{"values":[{}]},"mark":{"type":"text","font":"Liberation Sans","fontSize":13.5,"align":"center","baseline":"middle"},"encoding":{"x":{"datum":0.77},"y":{"datum":0.34},"text":{"value":"AUC"}}},
 {"data":{"values":[{}]},"mark":{"type":"text","font":"Open Sans","fontSize":26,"align":"left","baseline":"alphabetic"},"encoding":{"x":{"datum":-0.241},"y":{"datum":1.253},"text":{"value":"D"}}},
 {"data":{"values":[{}]},"mark":{"type":"text","font":"Open Sans","fontSize":22,"fontWeight":"bold","align":"center","baseline":"middle","angle":270},"encoding":{"x":{"datum":-0.202},"y":{"datum":0.467},"text":{"value":"Five-year CSS"}}}
]},
{"width":365,"height":225,"layer":[
 {"data":{"values":[{}]},"mark":{"type":"rule","color":"#BEBEBE","strokeWidth":2},"encoding":{"x":{"datum":-0.04,"type":"quantitative","scale":{"domain":[-0.04,1.04],"nice":false,"zero":false}},"y":{"datum":-0.04,"type":"quantitative","scale":{"domain":[-0.04,1.04],"nice":false,"zero":false}},"x2":{"datum":1.04},"y2":{"datum":1.04}}},
 {"data":{"values":[{}]},"mark":{"type":"rule","color":"#555555","strokeWidth":1},"encoding":{"x":{"datum":0},"x2":{"datum":1},"y":{"datum":-0.04}}},
 {"data":{"values":[{}]},"mark":{"type":"rule","color":"#555555","strokeWidth":1},"encoding":{"y":{"datum":0},"y2":{"datum":1},"x":{"datum":-0.04}}},
 {"data":{"name":"roc"},"transform":[{"filter":"datum.p=='E'"}],"mark":{"type":"line","strokeWidth":2},"encoding":{
  "x":{"field":"x","type":"quantitative","scale":{"domain":[-0.04,1.04],"nice":false,"zero":false},"axis":{"values":[0,0.25,0.5,0.75,1],"format":".2f","title":"1−Specificity"}},
  "y":{"field":"y","type":"quantitative","scale":{"domain":[-0.04,1.04],"nice":false,"zero":false},"axis":{"values":[0,0.25,0.5,0.75,1],"format":".2f","title":"Sensitivity"}},
  "color":{"field":"m","type":"nominal","scale":{"domain":["Cox","ST","RSF","GBM"],"range":["#000000","#FF0000","#00EE00","#0000FF"]},"legend":{"labelExpr":"datum.label=='Cox'?'Cox\u00a0\u00a0\u00a00.73 (0.65-0.80)':datum.label=='ST'?'ST\u00a0\u00a0\u00a0\u00a0\u00a00.70 (0.62-0.77)':datum.label=='RSF'?'RSF\u00a0\u00a00.74 (0.67-0.82)':'GBM\u00a00.73 (0.65-0.81)'"}},
  "order":[{"field":"x"},{"field":"y"}]}},
 {"data":{"values":[{}]},"mark":{"type":"text","font":"Liberation Sans","fontSize":13.5,"align":"center","baseline":"middle"},"encoding":{"x":{"datum":0.77},"y":{"datum":0.34},"text":{"value":"AUC"}}},
 {"data":{"values":[{}]},"mark":{"type":"text","font":"Open Sans","fontSize":26,"align":"left","baseline":"alphabetic"},"encoding":{"x":{"datum":-0.133},"y":{"datum":1.253},"text":{"value":"E"}}}
]},
{"width":365,"height":225,"layer":[
 {"data":{"values":[{}]},"mark":{"type":"rule","color":"#BEBEBE","strokeWidth":2},"encoding":{"x":{"datum":-0.04,"type":"quantitative","scale":{"domain":[-0.04,1.04],"nice":false,"zero":false}},"y":{"datum":-0.04,"type":"quantitative","scale":{"domain":[-0.04,1.04],"nice":false,"zero":false}},"x2":{"datum":1.04},"y2":{"datum":1.04}}},
 {"data":{"values":[{}]},"mark":{"type":"rule","color":"#555555","strokeWidth":1},"encoding":{"x":{"datum":0},"x2":{"datum":1},"y":{"datum":-0.04}}},
 {"data":{"values":[{}]},"mark":{"type":"rule","color":"#555555","strokeWidth":1},"encoding":{"y":{"datum":0},"y2":{"datum":1},"x":{"datum":-0.04}}},
 {"data":{"name":"roc"},"transform":[{"filter":"datum.p=='F'"}],"mark":{"type":"line","strokeWidth":2},"encoding":{
  "x":{"field":"x","type":"quantitative","scale":{"domain":[-0.04,1.04],"nice":false,"zero":false},"axis":{"values":[0,0.25,0.5,0.75,1],"format":".2f","title":"1−Specificity"}},
  "y":{"field":"y","type":"quantitative","scale":{"domain":[-0.04,1.04],"nice":false,"zero":false},"axis":{"values":[0,0.25,0.5,0.75,1],"format":".2f","title":"Sensitivity"}},
  "color":{"field":"m","type":"nominal","scale":{"domain":["Cox","ST","RSF","GBM"],"range":["#000000","#FF0000","#00EE00","#0000FF"]},"legend":{"labelExpr":"datum.label=='Cox'?'Cox\u00a0\u00a0\u00a00.87 (0.84-0.90)':datum.label=='ST'?'ST\u00a0\u00a0\u00a0\u00a0\u00a00.84 (0.80-0.87)':datum.label=='RSF'?'RSF\u00a0\u00a00.85 (0.81-0.88)':'GBM\u00a00.88 (0.84-0.91)'"}},
  "order":[{"field":"x"},{"field":"y"}]}},
 {"data":{"values":[{}]},"mark":{"type":"text","font":"Liberation Sans","fontSize":13.5,"align":"center","baseline":"middle"},"encoding":{"x":{"datum":0.77},"y":{"datum":0.34},"text":{"value":"AUC"}}},
 {"data":{"values":[{}]},"mark":{"type":"text","font":"Open Sans","fontSize":26,"align":"left","baseline":"alphabetic"},"encoding":{"x":{"datum":-0.126},"y":{"datum":1.253},"text":{"value":"F"}}}
]}
],
"resolve":{"scale":{"color":"independent"},"legend":{"color":"independent"}},
"config":{
 "view":{"stroke":null},
 "font":"Liberation Sans",
 "axis":{"grid":false,"domain":false,"tickColor":"#555555","tickSize":6,"tickWidth":1,"labelFont":"Liberation Sans","labelFontSize":12,"labelColor":"#000000","titleFont":"Liberation Sans","titleFontSize":11.5,"titleFontWeight":"normal","titleColor":"#000000","labelFlush":false,"labelOverlap":false},
 "axisX":{"labelPadding":4,"titlePadding":3},
 "axisY":{"labelPadding":2,"titlePadding":1},
 "legend":{"orient":"none","legendX":149.5,"legendY":157.4,"title":null,"padding":0,"symbolType":"stroke","symbolSize":784,"symbolStrokeWidth":2,"clipHeight":15.2,"rowPadding":0,"labelOffset":12.7,"labelFont":"Liberation Sans","labelFontSize":13.5,"labelColor":"#000000","labelLimit":400}
}
}
